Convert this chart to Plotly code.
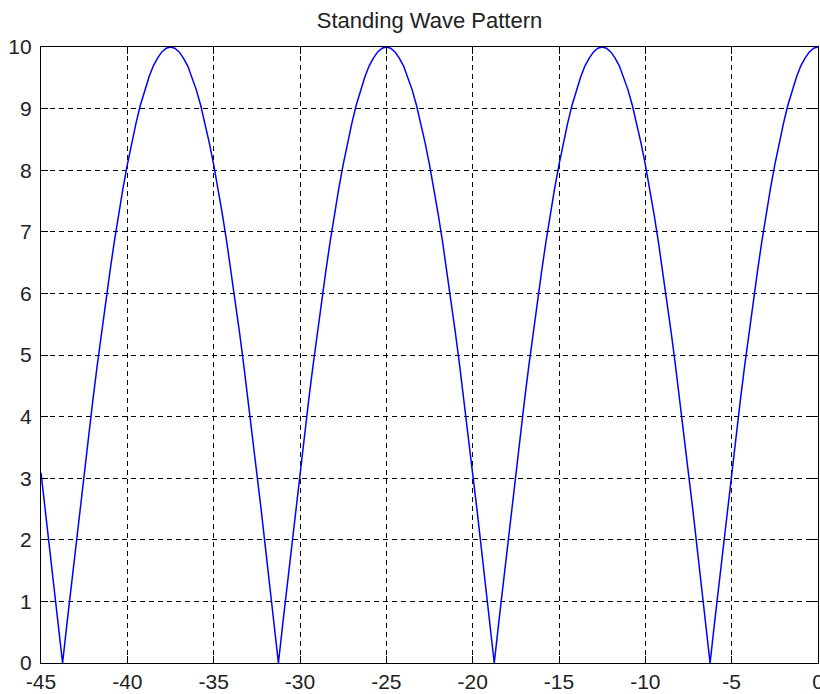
import plotly.graph_objects as go

x_vals = [
    -45.00, -44.75, -44.50, -44.25, -44.00, -43.75, -43.50, -43.25,
    -43.00, -42.75, -42.50, -42.25, -42.00, -41.75, -41.50, -41.25,
    -41.00, -40.75, -40.50, -40.25, -40.00, -39.75, -39.50, -39.25,
    -39.00, -38.75, -38.50, -38.25, -38.00, -37.75, -37.50, -37.25,
    -37.00, -36.75, -36.50, -36.25, -36.00, -35.75, -35.50, -35.25,
    -35.00, -34.75, -34.50, -34.25, -34.00, -33.75, -33.50, -33.25,
    -33.00, -32.75, -32.50, -32.25, -32.00, -31.75, -31.50, -31.25,
    -31.00, -30.75, -30.50, -30.25, -30.00, -29.75, -29.50, -29.25,
    -29.00, -28.75, -28.50, -28.25, -28.00, -27.75, -27.50, -27.25,
    -27.00, -26.75, -26.50, -26.25, -26.00, -25.75, -25.50, -25.25,
    -25.00, -24.75, -24.50, -24.25, -24.00, -23.75, -23.50, -23.25,
    -23.00, -22.75, -22.50, -22.25, -22.00, -21.75, -21.50, -21.25,
    -21.00, -20.75, -20.50, -20.25, -20.00, -19.75, -19.50, -19.25,
    -19.00, -18.75, -18.50, -18.25, -18.00, -17.75, -17.50, -17.25,
    -17.00, -16.75, -16.50, -16.25, -16.00, -15.75, -15.50, -15.25,
    -15.00, -14.75, -14.50, -14.25, -14.00, -13.75, -13.50, -13.25,
    -13.00, -12.75, -12.50, -12.25, -12.00, -11.75, -11.50, -11.25,
    -11.00, -10.75, -10.50, -10.25, -10.00, -9.75, -9.50, -9.25,
    -9.00, -8.75, -8.50, -8.25, -8.00, -7.75, -7.50, -7.25,
    -7.00, -6.75, -6.50, -6.25, -6.00, -5.75, -5.50, -5.25,
    -5.00, -4.75, -4.50, -4.25, -4.00, -3.75, -3.50, -3.25,
    -3.00, -2.75, -2.50, -2.25, -2.00, -1.75, -1.50, -1.25,
    -1.00, -0.75, -0.50, -0.25, 0.00,
]

y_vals = [
    3.09, 2.49, 1.87, 1.25, 0.63, 0.00,
    0.63, 1.25, 1.87, 2.49, 3.09, 3.68, 4.26, 4.82, 5.36, 5.88, 6.37, 6.85, 7.29,
    7.71, 8.09, 8.44, 8.76, 9.05, 9.30, 9.51, 9.69, 9.82, 9.92, 9.98, 10.00,
    9.98, 9.92, 9.82, 9.69, 9.51, 9.30, 9.05, 8.76, 8.44, 8.09, 7.71, 7.29,
    6.85, 6.37, 5.88, 5.36, 4.82, 4.26, 3.68, 3.09, 2.49, 1.87, 1.25, 0.63, 0.00,
    0.63, 1.25, 1.87, 2.49, 3.09, 3.68, 4.26, 4.82, 5.36, 5.88, 6.37, 6.85, 7.29,
    7.71, 8.09, 8.44, 8.76, 9.05, 9.30, 9.51, 9.69, 9.82, 9.92, 9.98, 10.00,
    9.98, 9.92, 9.82, 9.69, 9.51, 9.30, 9.05, 8.76, 8.44, 8.09, 7.71, 7.29,
    6.85, 6.37, 5.88, 5.36, 4.82, 4.26, 3.68, 3.09, 2.49, 1.87, 1.25, 0.63, 0.00,
    0.63, 1.25, 1.87, 2.49, 3.09, 3.68, 4.26, 4.82, 5.36, 5.88, 6.37, 6.85, 7.29,
    7.71, 8.09, 8.44, 8.76, 9.05, 9.30, 9.51, 9.69, 9.82, 9.92, 9.98, 10.00,
    9.98, 9.92, 9.82, 9.69, 9.51, 9.30, 9.05, 8.76, 8.44, 8.09, 7.71, 7.29,
    6.85, 6.37, 5.88, 5.36, 4.82, 4.26, 3.68, 3.09, 2.49, 1.87, 1.25, 0.63, 0.00,
    0.63, 1.25, 1.87, 2.49, 3.09, 3.68, 4.26, 4.82, 5.36, 5.88, 6.37, 6.85, 7.29,
    7.71, 8.09, 8.44, 8.76, 9.05, 9.30, 9.51, 9.69, 9.82, 9.92, 9.98, 10.00,
]

x_ticks = [-45, -40, -35, -30, -25, -20, -15, -10, -5, 0]
y_ticks = [0, 1, 2, 3, 4, 5, 6, 7, 8, 9, 10]
title_text = "Standing Wave Pattern"

FONT = "Liberation Sans, Arial, sans-serif"
W, H = 820, 694

fig = go.Figure()
fig.add_trace(go.Scatter(
    x=x_vals, y=y_vals, mode="lines",
    line=dict(color="#0000FF", width=1.5),
    showlegend=False,
))

axis_common = dict(
    showline=True, linecolor="black", linewidth=1.2, mirror="ticks",
    ticks="inside", ticklen=7, tickcolor="black", tickwidth=1.2,
    showgrid=True, gridcolor="black", gridwidth=1, griddash="5px,4px",
    zeroline=False, automargin=False, ticklabeloverflow="allow",
    tickfont=dict(family=FONT, size=21, color="#222222"),
)

fig.update_xaxes(range=[-45, 0], tickvals=x_ticks, ticktext=[str(v) for v in x_ticks], **axis_common)
fig.update_yaxes(range=[0, 10], tickvals=y_ticks, ticktext=[str(v) for v in y_ticks],
                 ticklabelstandoff=4, **axis_common)

fig.update_layout(
    width=W, height=H,
    margin=dict(l=41, r=2, t=47, b=31),
    paper_bgcolor="white", plot_bgcolor="white",
    title=dict(
        text=title_text, x=0.5, xref="paper", xanchor="center",
        y=1 - 20 / H, yref="container", yanchor="middle",
        font=dict(family=FONT, size=22, color="#222222"),
    ),
)

fig.write_html(
    "out.html",
    config={"displayModeBar": False},
    post_script="document.body.style.margin='0';document.body.style.overflow='hidden';",
)
